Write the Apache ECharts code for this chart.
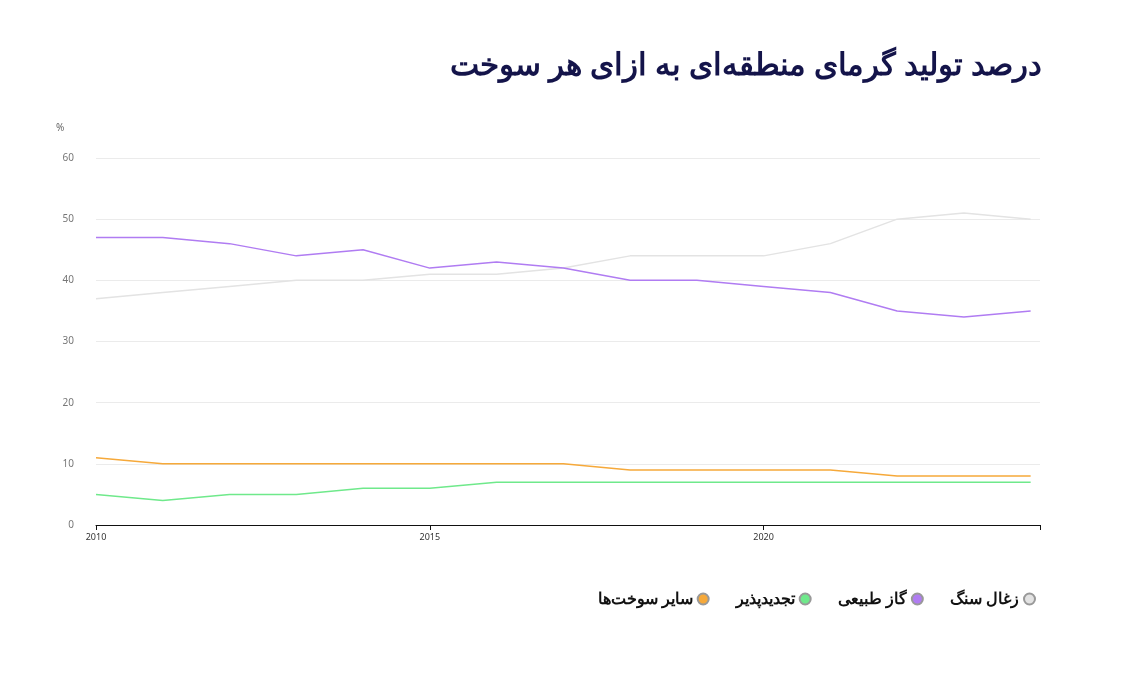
<!DOCTYPE html>
<html><head><meta charset="utf-8">
<script src="https://cdn.jsdelivr.net/npm/echarts@6/dist/echarts.min.js"></script>
<style>html,body{margin:0;padding:0;background:#fff}#c{width:1139px;height:675px}</style>
</head><body><div id="c"></div>
<script>
const years=[2010,2011,2012,2013,2014,2015,2016,2017,2018,2019,2020,2021,2022,2023,2024];
const coal=[37,38,39,40,40,41,41,42,44,44,44,46,50,51,50];
const gas=[47,47,46,44,45,42,43,42,40,40,39,38,35,34,35];
const renew=[5,4,5,5,6,6,7,7,7,7,7,7,7,7,7];
const other=[11,10,10,10,10,10,10,10,9,9,9,9,8,8,8];
const names=['زغال سنگ','گاز طبیعی','تجدیدپذیر','سایر سوخت‌ها'];
const colors=['#e3e3e3','#b07cf2','#6fe98b','#f6a93a'];
const vals=[coal,gas,renew,other];
const ch=echarts.init(document.getElementById('c'));
ch.setOption({
  title:{text:'درصد تولید گرمای منطقه‌ای به ازای هر سوخت',right:92,top:46,textStyle:{fontFamily:'Noto Sans',fontWeight:'bold',fontSize:31,color:'#14144a'}},
  graphic:[{type:'text',left:56,top:123,style:{text:'%',fontSize:10,fill:'#666',fontFamily:'Noto Sans'}}],
  legend:{data:[names[3],names[2],names[1],names[0]],right:98,top:586,align:'right',icon:'circle',itemWidth:11,itemHeight:11,itemGap:26,
    textStyle:{fontFamily:'Noto Sans',fontWeight:'bold',fontSize:16,color:'#111'}},
  grid:{left:96,right:99,top:158,bottom:150},
  xAxis:{type:'value',min:2010,max:2024.14,interval:5,
    axisLine:{lineStyle:{color:'#111'}},axisTick:{show:true,length:5,lineStyle:{color:'#111'}},splitLine:{show:false},
    axisLabel:{fontSize:9,color:'#333',fontFamily:'Noto Sans',formatter:v=>(v%5===0?String(v):'')}},
  yAxis:{type:'value',min:0,max:60,interval:10,axisLine:{show:false},axisTick:{show:false},
    splitLine:{lineStyle:{color:'#ebebeb'}},axisLabel:{fontSize:10,color:'#777',margin:22,fontFamily:'Noto Sans'}},
  series:vals.map((v,i)=>({name:names[i],type:'line',data:years.map((y,j)=>[y,v[j]]),showSymbol:false,
    lineStyle:{width:1.5,color:colors[i]},itemStyle:{color:colors[i],borderColor:'#999',borderWidth:1}}))
});
</script></body></html>
